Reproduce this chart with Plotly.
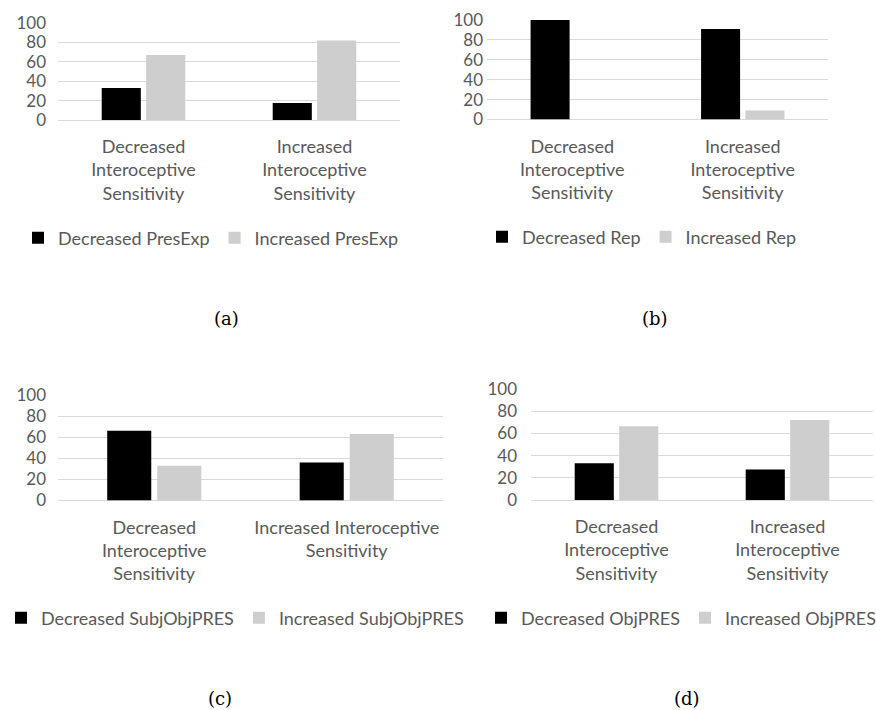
import plotly.graph_objects as go

# Categories (line breaks follow the printed tick labels of each panel)
cats_a = ["Decreased<br>Interoceptive<br>Sensitivity", "Increased<br>Interoceptive<br>Sensitivity"]
cats_b = cats_a
cats_c = ["Decreased<br>Interoceptive<br>Sensitivity", "Increased Interoceptive<br>Sensitivity"]
cats_d = cats_a

# Percentages per panel
presexp_dec = [33, 17.6]
presexp_inc = [67, 82]
rep_dec = [100, 91]
rep_inc = [0, 9]
subjobj_dec = [66, 36]
subjobj_inc = [33, 63]
objpres_dec = [33, 27.5]
objpres_inc = [66.5, 72]

series_names = {
    "a": ("Decreased PresExp", "Increased PresExp"),
    "b": ("Decreased Rep", "Increased Rep"),
    "c": ("Decreased SubjObjPRES", "Increased SubjObjPRES"),
    "d": ("Decreased ObjPRES", "Increased ObjPRES"),
}
captions = ["(a)", "(b)", "(c)", "(d)"]

W, H = 876, 710
DARK = "#000000"
LIGHT = "#CFCECE"
GRID = "#D9D9D9"
TXT = "#595959"
FONT = "Lato"
FS = 18

def px(x):
    return x / W

def py(y):
    return 1 - y / H

panels = [
    # key, cats, dec, inc, x-range px, y-range px (top, bottom), legend centre, y-label standoff
    ("a", cats_a, presexp_dec, presexp_inc, (58, 400), (23, 120), (211, 238), 11),
    ("b", cats_b, rep_dec, rep_inc, (487, 828), (20, 119.5), (642, 237), 3),
    ("c", cats_c, subjobj_dec, subjobj_inc, (58, 443), (395, 500.5), (235, 618), 11),
    ("d", cats_d, objpres_dec, objpres_inc, (531, 873), (389, 500), (681, 618), 13),
]

fig = go.Figure()
layout = {}
for i, (key, cats, dec, inc, xr, yr, leg, sto) in enumerate(panels):
    n = i + 1
    xa = "x" if n == 1 else f"x{n}"
    ya = "y" if n == 1 else f"y{n}"
    lg = "legend" if n == 1 else f"legend{n}"
    dname, iname = series_names[key]
    fig.add_trace(go.Bar(x=cats, y=dec, name=dname, marker=dict(color=DARK, line=dict(width=0)),
                         xaxis=xa, yaxis=ya, legend=lg))
    fig.add_trace(go.Bar(x=cats, y=inc, name=iname, marker=dict(color=LIGHT, line=dict(width=0)),
                         xaxis=xa, yaxis=ya, legend=lg))
    xk = "xaxis" if n == 1 else f"xaxis{n}"
    yk = "yaxis" if n == 1 else f"yaxis{n}"
    layout[xk] = dict(domain=[px(xr[0]), px(xr[1])], anchor=ya, type="category",
                      showgrid=False, showline=False, zeroline=False, ticks="",
                      automargin=False, ticklabelstandoff=14,
                      tickfont=dict(family=FONT, size=FS, color=TXT), fixedrange=True)
    layout[yk] = dict(domain=[py(yr[1]), py(yr[0])], anchor=xa, range=[0, 100],
                      tickvals=[0, 20, 40, 60, 80, 100], showgrid=True, gridcolor=GRID,
                      gridwidth=1.3, zeroline=True, zerolinecolor=GRID, zerolinewidth=1.3,
                      showline=False, ticks="", ticklabelstandoff=sto, automargin=False,
                      tickfont=dict(family=FONT, size=17, color=TXT), fixedrange=True)
    layout[lg] = dict(orientation="h", x=px(leg[0]), y=py(leg[1]), xanchor="center",
                      yanchor="middle", font=dict(family=FONT, size=FS, color=TXT),
                      bgcolor="rgba(0,0,0,0)", itemclick=False, itemdoubleclick=False)

cap_pos = [(226, 318), (655, 318), (220, 698), (687, 698)]
annotations = [
    dict(text=c, x=px(x), y=py(y), xref="paper", yref="paper", showarrow=False,
         xanchor="center", yanchor="middle",
         font=dict(family="DejaVu Serif", size=18, color="#000000"))
    for c, (x, y) in zip(captions, cap_pos)
]

fig.update_layout(
    width=W, height=H, margin=dict(l=0, r=0, t=0, b=0, autoexpand=False),
    paper_bgcolor="white", plot_bgcolor="white",
    barmode="group", bargap=0.48, bargroupgap=0.12,
    annotations=annotations, **layout,
)

fig.write_html("out.html", config={"displayModeBar": False})
